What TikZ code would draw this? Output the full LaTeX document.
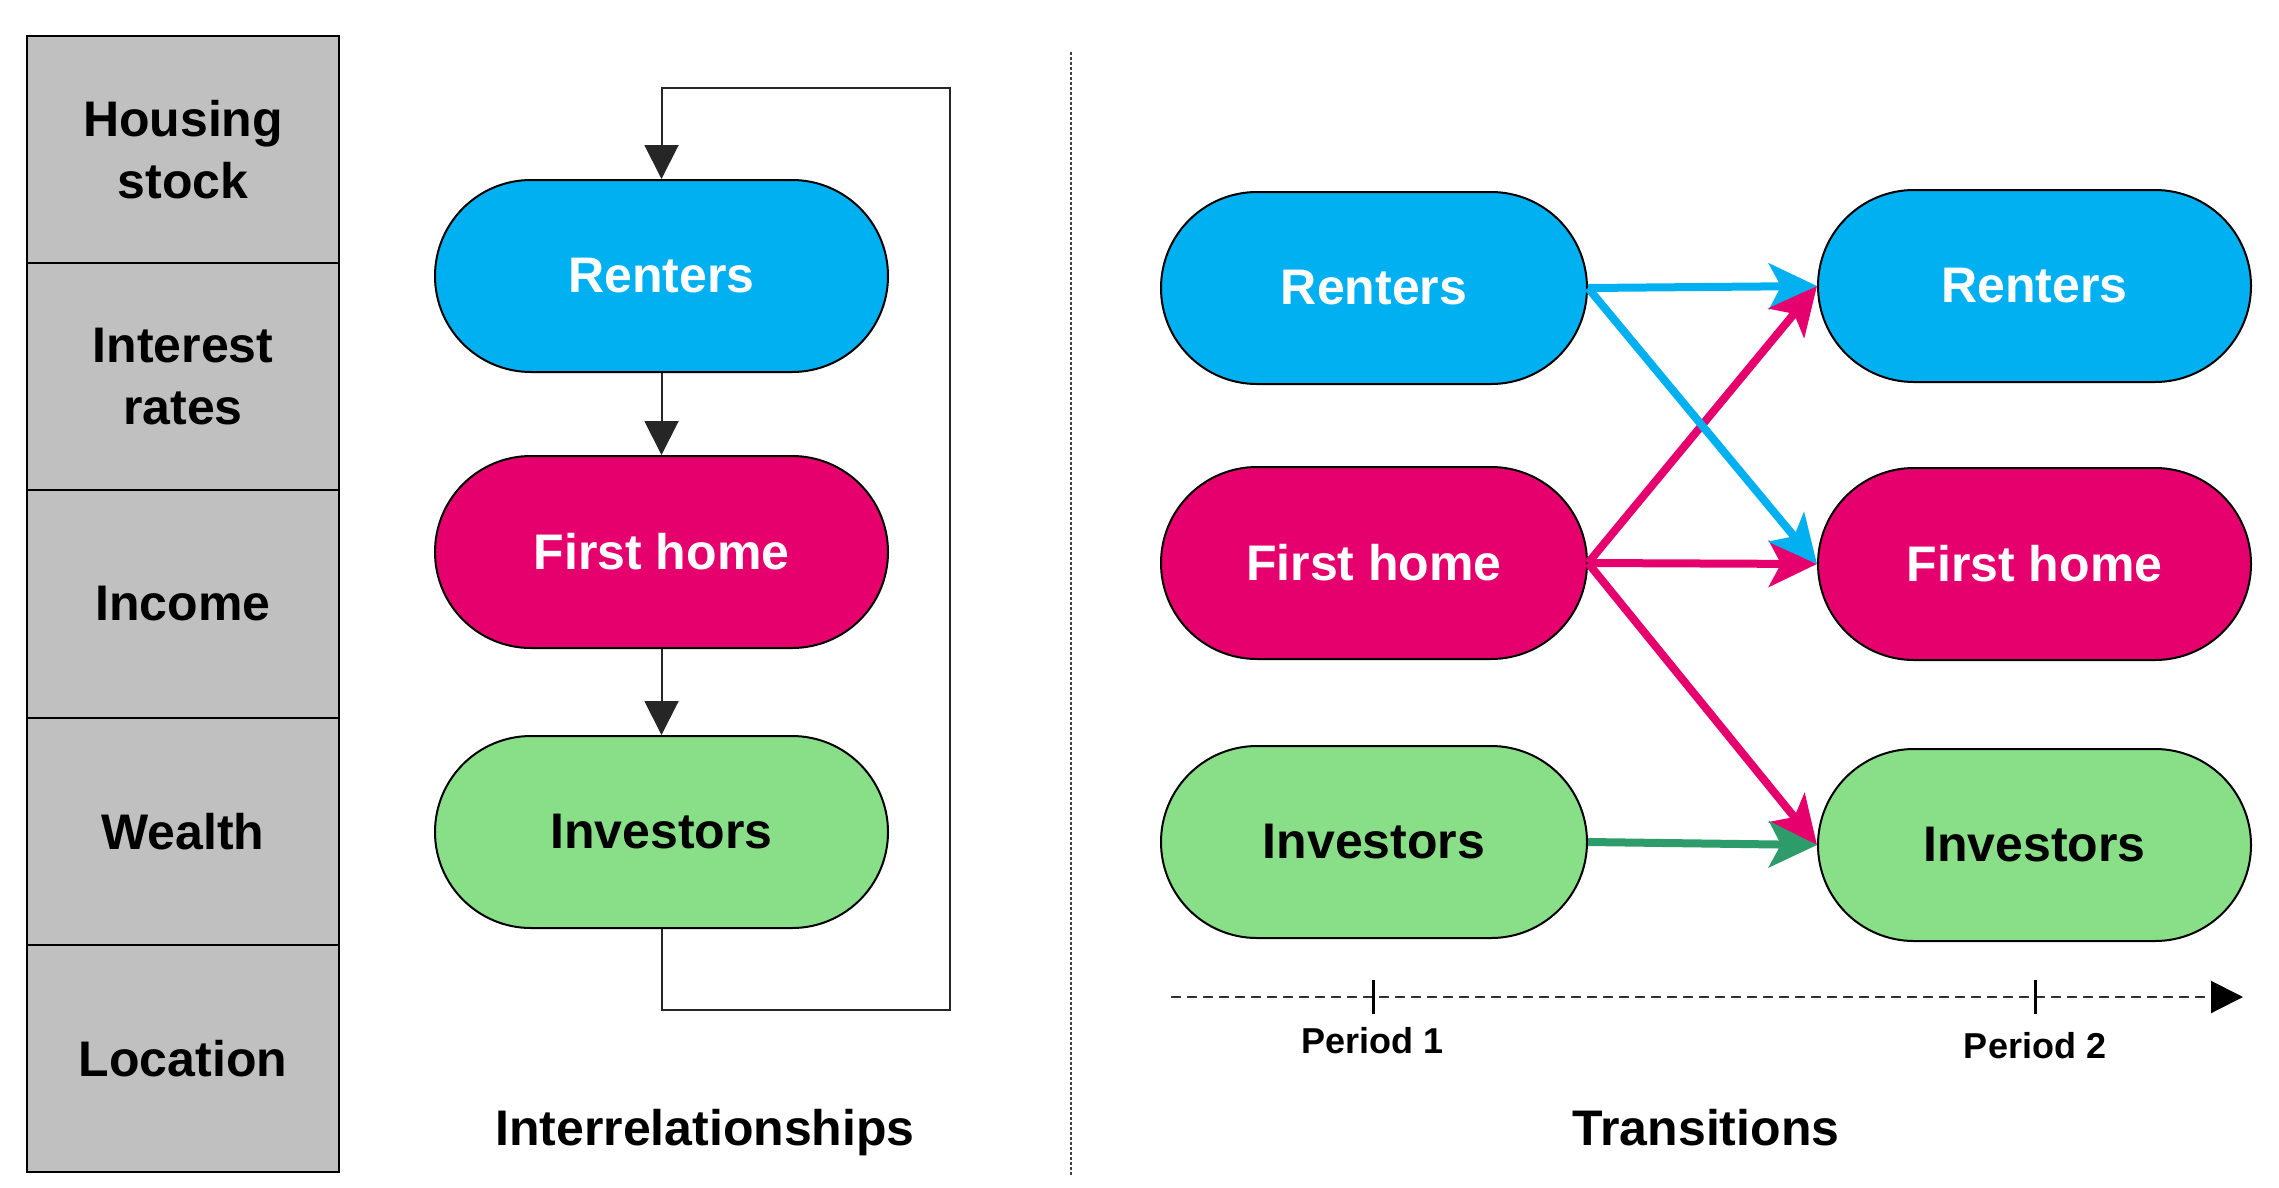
\documentclass[tikz,border=0pt]{standalone}
\usepackage{fontspec}
\setmainfont{Liberation Sans}
\usetikzlibrary{arrows.meta}
\definecolor{cblue}{HTML}{00B0F0}
\definecolor{cmag}{HTML}{E5006E}
\definecolor{cgreen}{HTML}{89DF88}
\definecolor{cdgreen}{HTML}{2E9B6B}
\definecolor{cgray}{HTML}{C0C0C0}
\tikzset{
  bigfont/.style={font=\fontsize{50}{62}\selectfont\bfseries},
  cellbox/.style={draw=black, line width=2pt, fill=cgray, minimum width=312pt, minimum height=227.2pt, inner sep=0pt, outer sep=0pt, align=center, bigfont},
  stadium/.style={draw=black, line width=2pt, minimum width=453pt, minimum height=192pt, rounded corners=96pt, inner sep=0pt, bigfont},
  tstadium/.style={stadium, minimum width=430pt},
  rent/.style={fill=cblue, text=white},
  fhome/.style={fill=cmag, text=white},
  inv/.style={fill=cgreen, text=black},
  blk/.style={draw=black!85, line width=2pt, -{Triangle[length=34pt,width=34pt]}},
  trarrow/.style={line width=8pt, -{Stealth[length=48pt,width=46pt,inset=12pt]}},
  caption/.style={font=\fontsize{50}{60}\selectfont\bfseries, anchor=base},
  period/.style={font=\fontsize{36}{44}\selectfont\bfseries, anchor=base},
}
\begin{document}
\begin{tikzpicture}[x=1pt,y=-1pt]
\useasboundingbox (0,0) rectangle (2279,1187);
% left column
\node[cellbox, anchor=north west] (c1) at (27,36) {Housing\\stock};
\node[cellbox, anchor=north] (c2) at (c1.south) {Interest\\rates};
\node[cellbox, anchor=north] (c3) at (c2.south) {Income};
\node[cellbox, anchor=north] (c4) at (c3.south) {Wealth};
\node[cellbox, anchor=north] (c5) at (c4.south) {Location};

% interrelationships
\node[stadium, rent] (ri) at (661.5,276) {Renters};
\node[stadium, fhome] (fi) at (661.5,552) {First home};
\node[stadium, inv] (ii) at (661.5,832) {Investors};
\draw[blk] (ri) -- (fi);
\draw[blk] (fi) -- (ii);
\coordinate (lb) at (950,1010);
\coordinate (lt) at (950,88);
\draw[blk] (ii.south) |- (lb) -- (lt) -| (ri.north);
\node[caption] (cap1) at (705,1145) {Interrelationships};

% divider
\coordinate (d1) at (1071,52);
\coordinate (d2) at (1071,1175);
\draw[black!75, line width=2pt, dash pattern=on 2.5pt off 2.5pt] (d1) -- (d2);

% transitions
\node[tstadium, rent, minimum width=426pt] (r1) at (1374,288) {Renters};
\node[tstadium, fhome, minimum width=426pt] (f1) at (1374,563) {First home};
\node[tstadium, inv, minimum width=426pt] (i1) at (1374,842) {Investors};
\node[tstadium, rent, minimum width=433pt] (r2) at (2034.5,286) {Renters};
\node[tstadium, fhome, minimum width=433pt] (f2) at (2034.5,564) {First home};
\node[tstadium, inv, minimum width=433pt] (i2) at (2034.5,845) {Investors};

\draw[trarrow, cblue] (r1.east) -- (r2.west);
\draw[trarrow, cmag] (f1.east) -- (r2.west);
\draw[trarrow, cmag] (f1.east) -- (f2.west);
\draw[trarrow, cblue] (r1.east) -- (f2.west);
\draw[trarrow, cmag] (f1.east) -- (i2.west);
\draw[trarrow, cdgreen] (i1.east) -- (i2.west);

% timeline
\coordinate (t0) at (1171,997);
\coordinate (t1) at (2243,997);
\draw[black!80, line width=2pt, dash pattern=on 10pt off 6pt, -{Triangle[length=32pt,width=32pt,black]}] (t0) -- (t1);
\coordinate (k1a) at (1373.5,980);
\coordinate (k1b) at (1373.5,1014);
\coordinate (k2a) at (2035,980);
\coordinate (k2b) at (2035,1014);
\draw[black, line width=3pt] (k1a) -- (k1b);
\draw[black, line width=3pt] (k2a) -- (k2b);
\node[period] (p1) at (1372.5,1053) {Period 1};
\node[period] (p2) at (2035,1058) {Period 2};

\node[caption] (cap2) at (1706,1145) {Transitions};
\end{tikzpicture}
\end{document}
